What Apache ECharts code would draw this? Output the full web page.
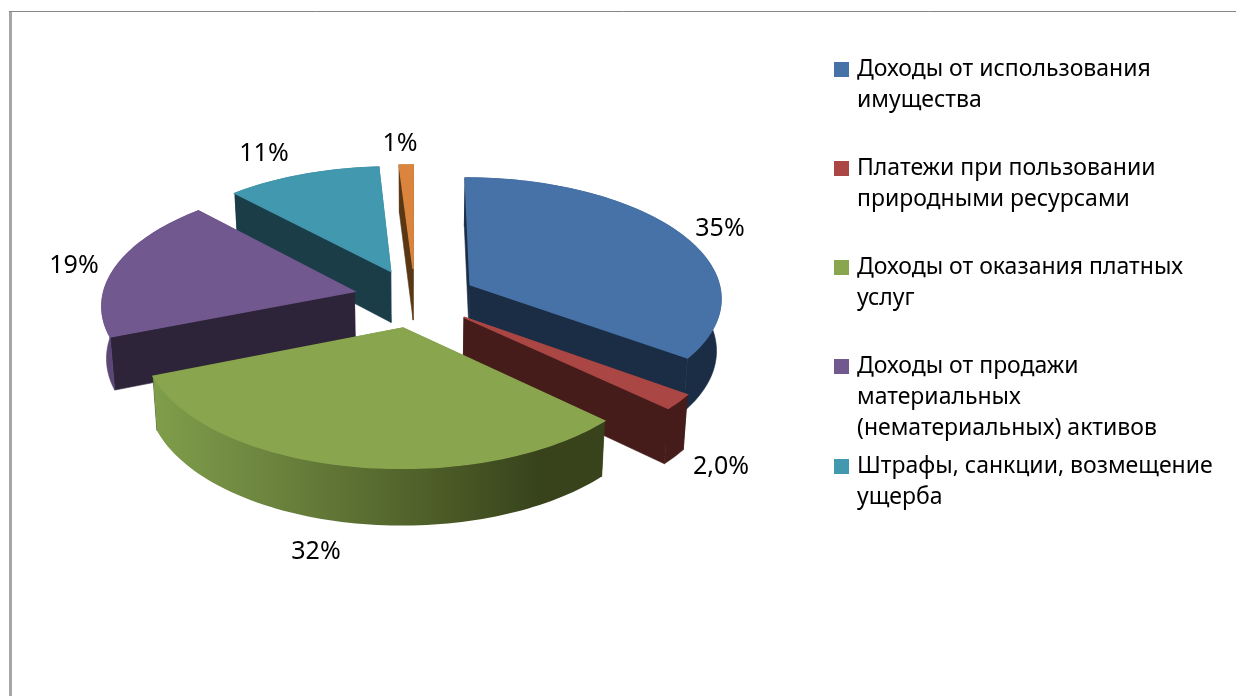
<!DOCTYPE html>
<html><head><meta charset="utf-8">
<style>html,body{margin:0;padding:0;background:#fff}#c{width:1236px;height:696px}</style>
<script src="https://cdn.jsdelivr.net/npm/echarts@6/dist/echarts.min.js"></script>
</head><body><div id="c"></div>
<script>
const categories = [
  "Доходы от использования\nимущества",
  "Платежи при пользовании\nприродными ресурсами",
  "Доходы от оказания платных\nуслуг",
  "Доходы от продажи\nматериальных\n(нематериальных) активов",
  "Штрафы, санкции, возмещение\nущерба",
  "Прочие доходы"
];
const values = [35, 2, 32, 19, 11, 1];
const valueLabels = ["35%", "2,0%", "32%", "19%", "11%", "1%"];

// styles and layout
const topColors = ["#4672a8", "#aa4644", "#89a54e", "#71588f", "#4198af", "#db843d"];
const cutColors = ["#1a2d45", "#451c1a", "#38431c", "#2e2439", "#1a3d47", "#5a3714"];
const rimColors = ["#1a2d45", "#451c1a", null, "#5b4676", "#1a3d47", "#5a3714"];
const drawOrder = [5, 4, 0, 3, 1, 2];
const labelAnchors = [[720,229],[721,467],[316,552],[74,266],[264,154],[400,144]];
const legendFirstLine = [70, 169, 268, 367, 467];
const swatchLift = 1;
const FONT = '"Noto Sans", sans-serif';
const cx = 415, cy = 298, rx = 252, ky = 120, persp = 0.1, explode = 0.248, depth = 52, shrink = 0.985;
const LINE = 31;

const total = values.reduce((a, b) => a + b, 0);
const starts = [];
values.reduce((acc, v, i) => { starts[i] = acc; return acc + v; }, 0);

function project(X, Y, bottom) {
  const s = 1 / (1 + persp * Y);
  const sx = rx * X * s * (bottom ? shrink : 1);
  const sy = -ky * Y * s + (bottom ? depth * (0.3 + 0.7 * s) : 0);
  return [cx + sx, cy + sy];
}
function sliceGeometry(i, value) {
  const a0 = starts[i] / total * 2 * Math.PI;
  const a1 = a0 + value / total * 2 * Math.PI;
  const m = (a0 + a1) / 2;
  const ox = explode * Math.sin(m), oy = explode * Math.cos(m);
  const steps = Math.max(4, Math.round((a1 - a0) * 40));
  const top = [], bot = [];
  for (let k = 0; k <= steps; k++) {
    const a = a0 + (a1 - a0) * k / steps;
    const X = ox + Math.sin(a), Y = oy + Math.cos(a);
    top.push(project(X, Y, false));
    bot.push(project(X, Y, true));
  }
  return { top, bot, apexT: project(ox, oy, false), apexB: project(ox, oy, true) };
}
function poly(points, fill, seam) {
  return { type: 'polygon', shape: { points }, style: { fill, stroke: seam ? fill : null, lineWidth: seam } };
}
function renderSlice(i) {
  return function (params, api) {
    const g = sliceGeometry(i, api.value(0));
    const n = g.top.length - 1;
    const rimFill = rimColors[i] || new echarts.graphic.LinearGradient(0, 0, 1, 0, [
      { offset: 0, color: '#7f9e4a' },
      { offset: 0.25, color: '#6d853f' },
      { offset: 0.6, color: '#4f6029' },
      { offset: 0.85, color: '#38431c' },
      { offset: 1, color: '#38431c' }
    ]);
    return {
      type: 'group',
      children: [
        poly([g.apexT, g.top[0], g.bot[0], g.apexB], cutColors[i], 0.6),
        poly([g.apexT, g.top[n], g.bot[n], g.apexB], cutColors[i], 0.6),
        poly(g.top.concat(g.bot.slice().reverse()), rimFill, rimColors[i] ? 0.6 : 0),
        poly([g.apexT].concat(g.top), topColors[i], 1.4),
        { type: 'text', style: {
            text: valueLabels[i], x: labelAnchors[i][0], y: labelAnchors[i][1],
            fill: '#000', font: '25px ' + FONT, align: 'center', verticalAlign: 'middle' } }
      ]
    };
  };
}

const series = drawOrder.map((i, order) => ({
  type: 'custom',
  name: categories[i],
  coordinateSystem: 'none',
  z: 2 + order,
  silent: true,
  itemStyle: { color: topColors[i] },
  data: [[values[i]]],
  renderItem: renderSlice(i)
}));

// One legend per entry: the swatch sits beside the first line of the name.
const legend = legendFirstLine.map((y, i) => {
  const lines = categories[i].split('\n').length;
  const block = (2 * lines - 1) * LINE;
  return {
    show: true, orient: 'vertical', left: 834, top: y - swatchLift + 0.5 - block / 2, padding: 0,
    data: [categories[i]], icon: 'rect', itemWidth: 15, itemHeight: 15, selectedMode: false,
    formatter: name => '\n'.repeat(lines - 1) + name,
    textStyle: { fontFamily: FONT, fontSize: 23, color: '#000', lineHeight: LINE, padding: [0, 0, 0, 3] }
  };
});

const chart = echarts.init(document.getElementById('c'), null, { renderer: 'canvas' });
chart.setOption({
  animation: false,
  backgroundColor: '#ffffff',
  legend,
  graphic: [
    { type: 'line', z: 1, shape: { x1: 10.5, y1: 12, x2: 10.5, y2: 696 }, style: { stroke: '#a6a6a6', lineWidth: 3 } },
    { type: 'line', z: 1, shape: { x1: 9, y1: 11.5, x2: 1236, y2: 11.5 }, style: { stroke: '#868686', lineWidth: 1 } }
  ],
  series
});
</script></body></html>
